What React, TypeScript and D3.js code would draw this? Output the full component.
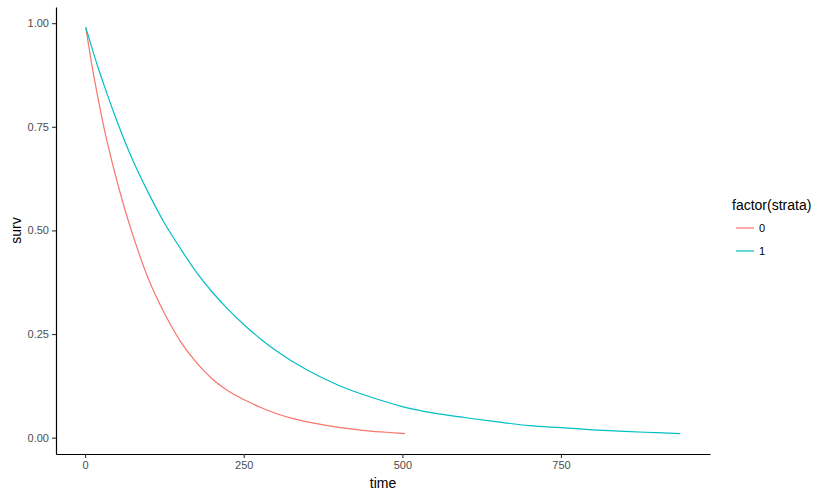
import React, { useRef, useEffect } from "react";
import * as d3 from "d3";

// survival curve estimates
const time0 = [1, 10, 20, 30, 45, 60, 80, 100, 125, 150, 175, 200, 225, 250, 275, 300, 325, 350, 375, 400, 425, 450, 475, 504];
const surv0 = [0.99, 0.905, 0.822, 0.746, 0.65, 0.565, 0.467, 0.382, 0.3, 0.233, 0.182, 0.142, 0.113, 0.092, 0.074, 0.059, 0.047, 0.038, 0.031, 0.025, 0.02, 0.016, 0.013, 0.0096];

const time1 = [1, 10, 20, 30, 45, 60, 80, 100, 125, 150, 175, 200, 225, 250, 275, 300, 350, 400, 450, 500, 550, 600, 650, 700, 750, 800, 850, 900, 938];
const surv1 = [0.99, 0.944, 0.895, 0.85, 0.785, 0.725, 0.653, 0.59, 0.518, 0.457, 0.4, 0.352, 0.31, 0.273, 0.24, 0.211, 0.163, 0.126, 0.098, 0.075, 0.059, 0.048, 0.038, 0.029, 0.024, 0.019, 0.015, 0.012, 0.0096];

const strata = ["0", "1"];
const colors = ["#F8766D", "#00BFC4"];
const xTicks = [0, 250, 500, 750];
const yTicks = [0, 0.25, 0.5, 0.75, 1];

const font = "'Liberation Sans', Arial, Helvetica, sans-serif";

function expand(ext: [number, number]): [number, number] {
  const r = ext[1] - ext[0];
  return [ext[0] - r * 0.05, ext[1] + r * 0.05];
}

function Chart() {
  const ref = useRef<SVGSVGElement>(null);

  const width = 830, height = 495;
  const panel = { left: 56, right: 710, top: 7, bottom: 454 };

  useEffect(() => {
    const svg = d3.select(ref.current);
    svg.selectAll("*").remove();

    const series = [
      time0.map((t, i) => ({ time: t, surv: surv0[i] })),
      time1.map((t, i) => ({ time: t, surv: surv1[i] })),
    ];
    const all = series.flat();

    const x = d3.scaleLinear()
      .domain(expand(d3.extent(all, d => d.time) as [number, number]))
      .range([panel.left, panel.right]);
    const y = d3.scaleLinear()
      .domain(expand(d3.extent(all, d => d.surv) as [number, number]))
      .range([panel.bottom, panel.top]);

    svg.append("rect").attr("width", width).attr("height", height).attr("fill", "white");

    const line = d3.line<{ time: number; surv: number }>()
      .x(d => x(d.time))
      .y(d => y(d.surv))
      .curve(d3.curveMonotoneX);

    svg.append("g")
      .selectAll("path")
      .data(series)
      .enter()
      .append("path")
      .attr("d", d => line(d))
      .attr("fill", "none")
      .attr("stroke", (d, i) => colors[i])
      .attr("stroke-width", 1.2);

    const xAxis = svg.append("g")
      .attr("transform", "translate(0," + panel.bottom + ")")
      .call(d3.axisBottom(x).tickValues(xTicks).tickSize(4).tickSizeOuter(0).tickPadding(3).tickFormat(d3.format("d")));
    const yAxis = svg.append("g")
      .attr("transform", "translate(" + panel.left + ",0)")
      .call(d3.axisLeft(y).tickValues(yTicks).tickSize(4).tickSizeOuter(0).tickPadding(3).tickFormat(d3.format(".2f")));

    [xAxis, yAxis].forEach(a => {
      a.select(".domain").attr("stroke", "black").attr("stroke-width", 1.2);
      a.selectAll(".tick line").attr("stroke", "#333333").attr("stroke-width", 1.1);
      a.selectAll(".tick text")
        .attr("fill", "#4D4D4D")
        .style("font-family", font)
        .style("font-size", "11px");
    });

    svg.append("text")
      .attr("x", (panel.left + panel.right) / 2)
      .attr("y", 488)
      .attr("text-anchor", "middle")
      .style("font-family", font)
      .style("font-size", "14px")
      .text("time");

    svg.append("text")
      .attr("transform", "translate(21," + (panel.top + panel.bottom) / 2 + ") rotate(-90)")
      .attr("text-anchor", "middle")
      .style("font-family", font)
      .style("font-size", "14px")
      .text("surv");

    // legend
    const legend = svg.append("g");
    legend.append("text")
      .attr("x", 732)
      .attr("y", 210)
      .style("font-family", font)
      .style("font-size", "14px")
      .text("factor(strata)");

    const keys = legend.selectAll("g.key")
      .data(strata)
      .enter()
      .append("g")
      .attr("class", "key")
      .attr("transform", (d, i) => "translate(0," + (228 + i * 23) + ")");
    keys.append("line")
      .attr("x1", 736).attr("x2", 754)
      .attr("stroke", (d, i) => colors[i])
      .attr("stroke-width", 1.2);
    keys.append("text")
      .attr("x", 759)
      .attr("y", 4)
      .style("font-family", font)
      .style("font-size", "11px")
      .text(d => d);
  }, []);

  return <svg ref={ref} width={width} height={height} style={{ position: "absolute", left: 0, top: 0 }} />;
}

export default function App() {
  return <Chart />;
}
